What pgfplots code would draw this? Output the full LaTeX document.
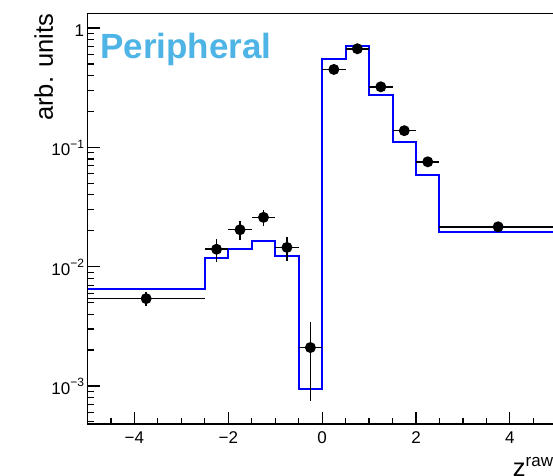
\documentclass[border=0pt]{standalone}
\usepackage{fontspec}
\setmainfont{Liberation Sans}
\usepackage{pgfplots}
\pgfplotsset{compat=1.18}
\definecolor{periph}{RGB}{78,180,230}
\newcommand{\mysup}[1]{\raisebox{7.5bp}{\fontsize{12bp}{12bp}\selectfont #1}}
\begin{document}
\begin{tikzpicture}
\begin{axis}[name=ax,
  scale only axis, width=469.3bp, height=410.7bp,
  xmin=-5, xmax=5, ymode=log, ymin=4.8e-4, ymax=1.33,
  axis line style={line width=1.3bp},
  every tick/.style={black, line width=1.2bp},
  tick align=inside, xtick pos=lower, ytick pos=left,
  major tick length=12bp, minor tick length=6bp,
  xtick={-4,-2,0,2,4}, xticklabels={−4,−2,0,2,4},
  minor xtick={-4.5,-3.5,-3,-2.5,-1.5,-1,-0.5,0.5,1,1.5,2.5,3,3.5,4.5},
  ytick={1e-3,1e-2,1e-1,1},
  yticklabels={10\mysup{−3},10\mysup{−2},10\mysup{−1},1},
  minor ytick={5e-4,6e-4,7e-4,8e-4,9e-4,2e-3,3e-3,4e-3,5e-3,6e-3,7e-3,8e-3,9e-3,2e-2,3e-2,4e-2,5e-2,6e-2,7e-2,8e-2,9e-2,0.2,0.3,0.4,0.5,0.6,0.7,0.8,0.9},
  tick label style={font=\fontsize{17bp}{19bp}\selectfont},
  xticklabel style={anchor=base, yshift=-19.3bp},
  yticklabel style={anchor=base east, yshift=-8.5bp},
  clip=false,
]
\addplot[blue, line width=2bp, const plot mark left, mark=none] coordinates {
(-5,0.00645) (-2.5,0.01182) (-2,0.01406) (-1.5,0.01652) (-1,0.0122) (-0.5,0.000944)
(0,0.553) (0.5,0.711) (1,0.273) (1.5,0.112) (2,0.0589) (2.5,0.0194) (5,0.0194)
};
\addplot[black, only marks, mark=*, mark size=4.8bp, line width=1.3bp,
  error bars/.cd, x dir=both, x explicit, y dir=both, y explicit,
  error mark=none, error bar style={line width=1.5bp, black}] coordinates {
(-3.75,0.0054) +- (1.25,0.0007)
(-2.25,0.0140) +- (0.25,0.0030)
(-1.75,0.0204) +- (0.25,0.0036)
(-1.25,0.0259) +- (0.25,0.0039)
(-0.75,0.0145) +- (0.25,0.0033)
(-0.25,0.0021) +- (0.25,0.00135)
(0.25,0.450) +- (0.25,0.01)
(0.75,0.671) +- (0.25,0.01)
(1.25,0.322) +- (0.25,0.006)
(1.75,0.138) +- (0.25,0.003)
(2.25,0.0757) +- (0.25,0.0015)
(3.75,0.0216) +- (1.25,0.0005)
};
\node[anchor=base west, inner sep=0, text=periph,
  font=\fontsize{35bp}{40bp}\selectfont\bfseries]
  at ([xshift=12.5bp,yshift=-45bp]rel axis cs:0,1) {Peripheral};
\node[rotate=90, anchor=base east, inner sep=0,
  font=\fontsize{25.5bp}{28bp}\selectfont]
  at ([xshift=-34.5bp]rel axis cs:0,1) {arb. units};
\node[anchor=base west, inner sep=0, font=\fontsize{25.5bp}{28bp}\selectfont]
  at ([yshift=-52bp]rel axis cs:0.906,0) {z\raisebox{10bp}{\fontsize{17bp}{17bp}\selectfont raw}};
\end{axis}
\pgfresetboundingbox
\path[use as bounding box] (ax.south west) ++(-87.5bp,-52bp) rectangle ++(553bp,476bp);
\end{tikzpicture}
\end{document}
